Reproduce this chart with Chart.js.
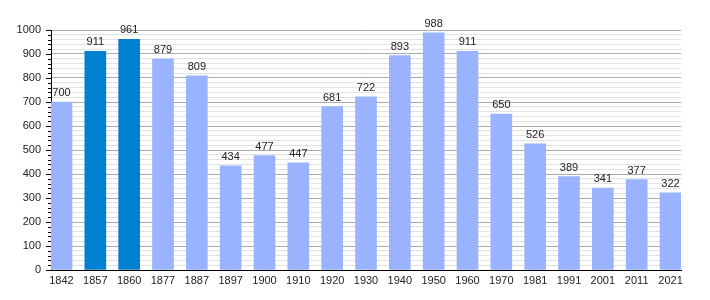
<!DOCTYPE html>
<html>
<head>
<meta charset="utf-8">
<script src="https://cdn.jsdelivr.net/npm/chart.js@4/dist/chart.umd.min.js"></script>
<style>
  html, body { margin: 0; padding: 0; background: #fff; }
  #wrap { width: 710px; height: 300px; }
</style>
</head>
<body>
<div id="wrap"><canvas id="grafico" width="710" height="300"></canvas></div>
<script>
// anos e população
const anos = ['1842', '1857', '1860', '1877', '1887', '1897', '1900', '1910', '1920', '1930',
              '1940', '1950', '1960', '1970', '1981', '1991', '2001', '2011', '2021'];
const populacao = [700, 911, 961, 879, 809, 434, 477, 447, 681, 722,
                   893, 988, 911, 650, 526, 389, 341, 377, 322];
const destaque = ['1857', '1860']; // barras escuras

const corClara = '#99b3ff';
const corEscura = '#0080d0';
const fonte = 'Liberation Sans, Arial, sans-serif';

// rótulos em cima das barras + marcas do eixo y
const rotulosPlugin = {
    id: 'rotulos',
    afterDatasetsDraw(chart) {
        const ctx = chart.ctx;
        const meta = chart.getDatasetMeta(0);
        ctx.save();
        ctx.font = '11px ' + fonte;
        ctx.fillStyle = '#222';
        ctx.textAlign = 'center';
        ctx.textBaseline = 'alphabetic';
        meta.data.forEach((bar, i) => {
            ctx.fillText(String(populacao[i]), bar.x, bar.y - 6);
        });
        ctx.restore();
    },
    afterDraw(chart) {
        const ctx = chart.ctx;
        const y = chart.scales.y;
        const left = chart.chartArea.left;
        ctx.save();
        ctx.strokeStyle = '#000';
        ctx.lineWidth = 1;
        y.ticks.forEach(t => {
            const py = Math.round(y.getPixelForValue(t.value)) + 0.5;
            const len = t.value % 100 === 0 ? 5 : 3;
            ctx.beginPath();
            ctx.moveTo(left - len, py);
            ctx.lineTo(left, py);
            ctx.stroke();
        });
        ctx.restore();
    }
};

const ctx = document.getElementById('grafico');

new Chart(ctx, {
    type: 'bar',
    data: {
        datasets: [
            {
                data: populacao.map((v, i) => ({ x: i, y: v })),
                backgroundColor: anos.map(a => destaque.includes(a) ? corEscura : corClara),
                barThickness: 21,
                borderWidth: 0
            }
        ]
    },
    options: {
        responsive: false,
        animation: false,
        layout: { padding: { top: 30, right: 29, left: 0, bottom: 0 } },
        plugins: {
            legend: { display: false },
            tooltip: { enabled: false }
        },
        scales: {
            x: {
                type: 'linear',
                min: -0.31,
                max: 18.31,
                offset: false,
                afterBuildTicks(scale) {
                    scale.ticks = anos.map((a, i) => ({ value: i }));
                },
                afterFit(scale) { scale.height = 30; },
                grid: { display: false, drawTicks: false },
                border: { display: true, color: '#000', width: 1 },
                ticks: {
                    autoSkip: false,
                    maxRotation: 0,
                    padding: 4,
                    color: '#222',
                    font: { family: fonte, size: 11 },
                    callback: (v) => anos[v]
                }
            },
            y: {
                min: 0,
                max: 1000,
                afterFit(scale) { scale.width = 51; },
                grid: {
                    drawTicks: false,
                    color: (c) => c.tick && c.tick.value % 100 === 0 ? '#aaaaaa' : '#e2e2e2',
                    lineWidth: 1
                },
                border: { display: true, color: '#000', width: 1 },
                ticks: {
                    stepSize: 20,
                    autoSkip: false,
                    padding: 10,
                    color: '#222',
                    font: { family: fonte, size: 11 },
                    callback: (v) => v % 100 === 0 ? String(v) : ''
                }
            }
        }
    },
    plugins: [rotulosPlugin]
});
</script>
</body>
</html>
